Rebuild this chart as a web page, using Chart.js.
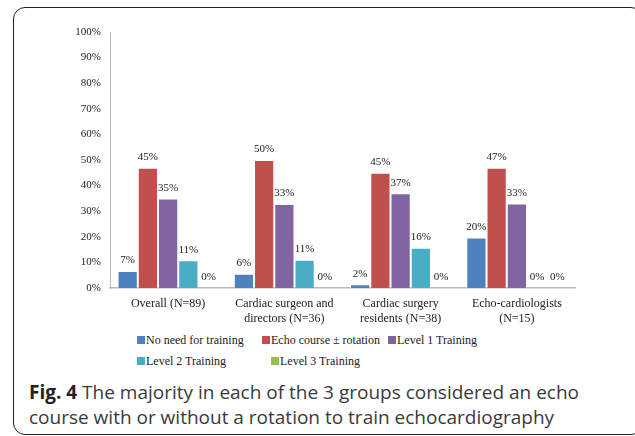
<!DOCTYPE html>
<html>
<head>
<meta charset="utf-8">
<script src="https://cdn.jsdelivr.net/npm/chart.js@4.4.0/dist/chart.umd.min.js"></script>
<style>
body { margin: 0; background: #fff; width: 635px; height: 436px; overflow: hidden; position: relative; }
#frame { position: absolute; left: 13px; top: 7px; width: 630px; height: 428px; border: 1.5px solid #222; border-radius: 12px; box-sizing: border-box; }
#wrap { position: absolute; left: 0; top: 0; width: 635px; height: 330px; }
#legend { position: absolute; left: 0; top: 333px; font-family: "Liberation Serif", serif; font-size: 12px; color: #222; }
.item { position: absolute; white-space: nowrap; line-height: 14px; }
.item span.box { display: inline-block; width: 8px; height: 8px; margin-right: 1px; vertical-align: 0px; }
#caption { position: absolute; left: 29px; top: 380px; font-family: "Open Sans", sans-serif; font-size: 19px; line-height: 25px; color: #3a3a3a; }
#caption b { color: #222; }
</style>
</head>
<body>
<div id="frame"></div>
<div id="wrap"><canvas id="chart"></canvas></div>
<div id="legend"></div>
<div id="caption"><b>Fig. 4</b> The majority in each of the 3 groups considered an echo<br>course with or without a rotation to train echocardiography</div>
<script>
// categories and series (bar heights, labels as printed)
const groups = [
  'Overall (N=89)',
  ['Cardiac surgeon and', 'directors (N=36)'],
  ['Cardiac surgery', 'residents (N=38)'],
  ['Echo-cardiologists', '(N=15)']
];
const seriesNames = ['No need for training', 'Echo course \u00b1 rotation', 'Level 1 Training', 'Level 2 Training', 'Level 3 Training'];
const noNeed = [6.6, 5.6, 1.5, 19.7];
const echoCourse = [47, 50, 45, 47];
const level1 = [35, 32.8, 37, 33];
const level2 = [10.8, 11, 15.7, 0];
const level3 = [0, 0, 0, 0];
const noNeedLabels = ['7%', '6%', '2%', '20%'];
const echoCourseLabels = ['45%', '50%', '45%', '47%'];
const level1Labels = ['35%', '33%', '37%', '33%'];
const level2Labels = ['11%', '11%', '16%', '0%'];
const level3Labels = ['0%', '0%', '0%', '0%'];
const yTicks = ['0%', '10%', '20%', '30%', '40%', '50%', '60%', '70%', '80%', '90%', '100%'];

const colors = ['#4F81BD', '#C0504D', '#8064A2', '#4BACC6', '#9BBB59'];
const allValues = [noNeed, echoCourse, level1, level2, level3];
const allLabels = [noNeedLabels, echoCourseLabels, level1Labels, level2Labels, level3Labels];

const serif = '"Liberation Serif", "Times New Roman", serif';

// draws the printed value above each bar
const valueLabels = {
  id: 'valueLabels',
  afterDatasetsDraw(chart) {
    const ctx = chart.ctx;
    ctx.save();
    ctx.font = '11px ' + serif;
    ctx.fillStyle = '#222';
    ctx.textAlign = 'center';
    ctx.textBaseline = 'bottom';
    chart.data.datasets.forEach((ds, i) => {
      chart.getDatasetMeta(i).data.forEach((bar, j) => {
        ctx.fillText(allLabels[i][j], bar.x, bar.y - 5);
      });
    });
    ctx.restore();
  }
};

const ctx = document.getElementById('chart').getContext('2d');
const chart = new Chart(ctx, {
  type: 'bar',
  data: {
    labels: groups,
    datasets: seriesNames.map((name, i) => ({
      label: name,
      data: allValues[i],
      backgroundColor: colors[i],
      borderColor: 'rgba(255,255,255,0.55)',
      borderWidth: 1,
      categoryPercentage: 0.87,
      barPercentage: 1
    }))
  },
  options: {
    responsive: true,
    maintainAspectRatio: false,
    animation: false,
    layout: { padding: { left: 0, right: 60, top: 32, bottom: 0 } },
    plugins: { legend: { display: false }, tooltip: { enabled: false } },
    scales: {
      x: {
        grid: { display: false, drawTicks: false },
        border: { color: '#b8b8b8', width: 1.5 },
        ticks: { font: { family: serif, size: 12 }, color: '#222', padding: 9, maxRotation: 0, autoSkip: false },
        afterFit(scale) { scale.height = 42; }
      },
      y: {
        min: 0,
        max: 100,
        grid: { display: false, drawTicks: false },
        border: { color: '#b8b8b8', width: 1 },
        ticks: {
          stepSize: 10,
          font: { family: serif, size: 11 },
          color: '#222',
          padding: 9,
          callback: (v, i) => yTicks[i]
        },
        afterFit(scale) { scale.width = 110; }
      }
    }
  },
  plugins: [valueLabels]
});

// legend placed as in the original
const legendPos = [[137, 0], [262, 0], [388, 0], [137, 21], [271, 21]];
const legend = document.getElementById('legend');
chart.data.datasets.forEach((ds, i) => {
  const d = document.createElement('div');
  d.className = 'item';
  d.style.left = legendPos[i][0] + 'px';
  d.style.top = legendPos[i][1] + 'px';
  d.innerHTML = '<span class="box" style="background:' + ds.backgroundColor + '"></span>' + ds.label;
  legend.appendChild(d);
});
</script>
</body>
</html>
